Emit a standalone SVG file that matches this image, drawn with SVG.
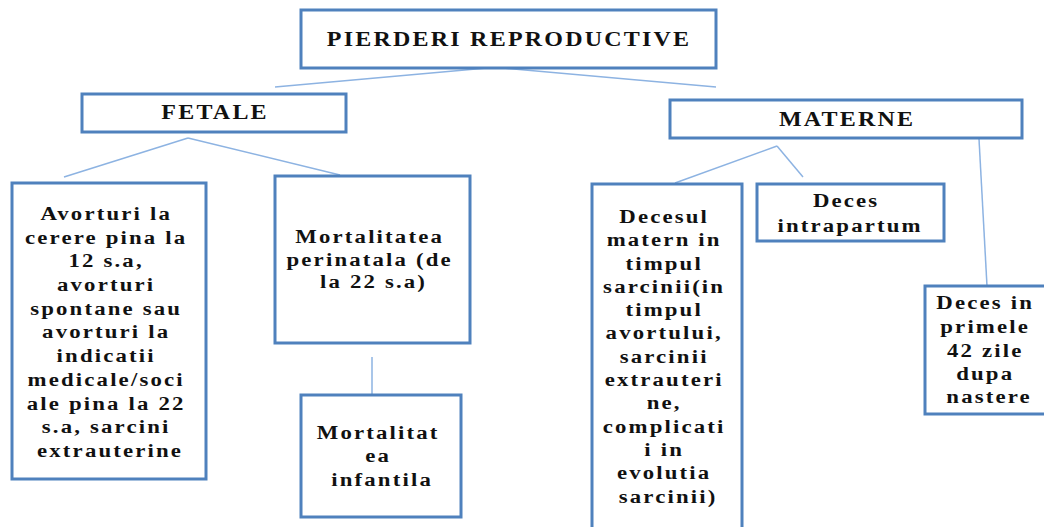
<svg xmlns="http://www.w3.org/2000/svg" width="1044" height="527" viewBox="0 0 1044 527">
<style>
.box{fill:#fff;stroke:#4f81bd;stroke-width:3}
.hd{font-family:"Liberation Serif","Times New Roman",serif;font-weight:bold;font-size:20px;letter-spacing:1.85px;fill:#111;text-anchor:middle}
.tx{font-family:"Liberation Serif","Times New Roman",serif;font-weight:bold;font-size:19px;letter-spacing:1.8px;fill:#111;text-anchor:middle}
.cn{stroke:#8db3e2;stroke-width:1.5;fill:none}
</style>
<rect width="1044" height="527" fill="#fff"/>
<g id="connectors">
<line class="cn" x1="487" y1="68" x2="275" y2="87"/>
<line class="cn" x1="503" y1="68" x2="716" y2="87"/>
<line class="cn" x1="188" y1="138" x2="64" y2="177"/>
<line class="cn" x1="188" y1="138" x2="340" y2="175"/>
<line class="cn" x1="372" y1="357" x2="372" y2="395"/>
<line class="cn" x1="777" y1="146" x2="675" y2="183"/>
<line class="cn" x1="777" y1="146" x2="803" y2="177"/>
<line class="cn" x1="979" y1="139" x2="987" y2="286"/>
</g>
<g id="root">
<rect class="box" x="301" y="10" width="415" height="58"/>
<g transform="translate(508,0) scale(1.2,1)"><text class="hd" x="0.9" y="46">PIERDERI REPRODUCTIVE</text></g>
</g>
<g id="fetale">
<rect class="box" x="82" y="94" width="264" height="38"/>
<g transform="translate(214,0) scale(1.2,1)"><text class="hd" x="0.9" y="119">FETALE</text></g>
</g>
<g id="materne">
<rect class="box" x="670" y="100" width="352" height="38"/>
<g transform="translate(846,0) scale(1.2,1)"><text class="hd" x="0.9" y="126">MATERNE</text></g>
</g>
<g id="avorturi">
<rect class="box" x="12" y="183" width="194" height="296"/>
<g transform="translate(109,0) scale(1.2,1)">
<text class="tx">
<tspan x="0.9" y="220">Avorturi la</tspan>
<tspan x="0.9" y="243.7">cerere pina la</tspan>
<tspan x="0.9" y="267.4">12 s.a,</tspan>
<tspan x="0.9" y="291.1">avorturi</tspan>
<tspan x="0.9" y="314.8">spontane sau</tspan>
<tspan x="0.9" y="338.5">avorturi la</tspan>
<tspan x="0.9" y="362.2">indicatii</tspan>
<tspan x="0.9" y="385.9">medicale/soci</tspan>
<tspan x="0.9" y="409.6">ale pina la 22</tspan>
<tspan x="0.9" y="433.3">s.a, sarcini</tspan>
<tspan x="0.9" y="457">extrauterine</tspan>
</text>
</g>
</g>
<g id="perinatala">
<rect class="box" x="275" y="176" width="195" height="167"/>
<g transform="translate(372.5,0) scale(1.2,1)">
<text class="tx">
<tspan x="0.9" y="243">Mortalitatea</tspan>
<tspan x="0.9" y="266">perinatala (de</tspan>
<tspan x="0.9" y="288">la 22 s.a)</tspan>
</text>
</g>
</g>
<g id="infantila">
<rect class="box" x="301" y="395" width="160" height="122"/>
<g transform="translate(381,0) scale(1.2,1)">
<text class="tx">
<tspan x="0.9" y="439">Mortalitat</tspan>
<tspan x="0.9" y="462">ea</tspan>
<tspan x="0.9" y="486">infantila</tspan>
</text>
</g>
</g>
<g id="decesul">
<rect class="box" x="592" y="184" width="150" height="360"/>
<g transform="translate(667,0) scale(1.2,1)">
<text class="tx">
<tspan x="0.9" y="223">Decesul</tspan>
<tspan x="0.9" y="246.3">matern in</tspan>
<tspan x="0.9" y="269.6">timpul</tspan>
<tspan x="0.9" y="292.9">sarcinii(in</tspan>
<tspan x="0.9" y="316.2">timpul</tspan>
<tspan x="0.9" y="339.5">avortului,</tspan>
<tspan x="0.9" y="362.8">sarcinii</tspan>
<tspan x="0.9" y="386.1">extrauteri</tspan>
<tspan x="0.9" y="409.4">ne,</tspan>
<tspan x="0.9" y="432.7">complicati</tspan>
<tspan x="0.9" y="456">i in</tspan>
<tspan x="0.9" y="479.3">evolutia</tspan>
<tspan x="0.9" y="502.6">sarcinii)</tspan>
</text>
</g>
</g>
<g id="intrapartum">
<rect class="box" x="757" y="184" width="187" height="57"/>
<g transform="translate(849,0) scale(1.2,1)">
<text class="tx">
<tspan x="0.9" y="207">Deces</tspan>
<tspan x="0.9" y="232">intrapartum</tspan>
</text>
</g>
</g>
<g id="primele">
<rect class="box" x="925" y="286" width="130" height="128"/>
<g transform="translate(988,0) scale(1.2,1)">
<text class="tx">
<tspan x="0.9" y="309">Deces in</tspan>
<tspan x="0.9" y="333">primele</tspan>
<tspan x="0.9" y="357">42 zile</tspan>
<tspan x="0.9" y="380">dupa</tspan>
<tspan x="0.9" y="403">nastere</tspan>
</text>
</g>
</g>
</svg>
